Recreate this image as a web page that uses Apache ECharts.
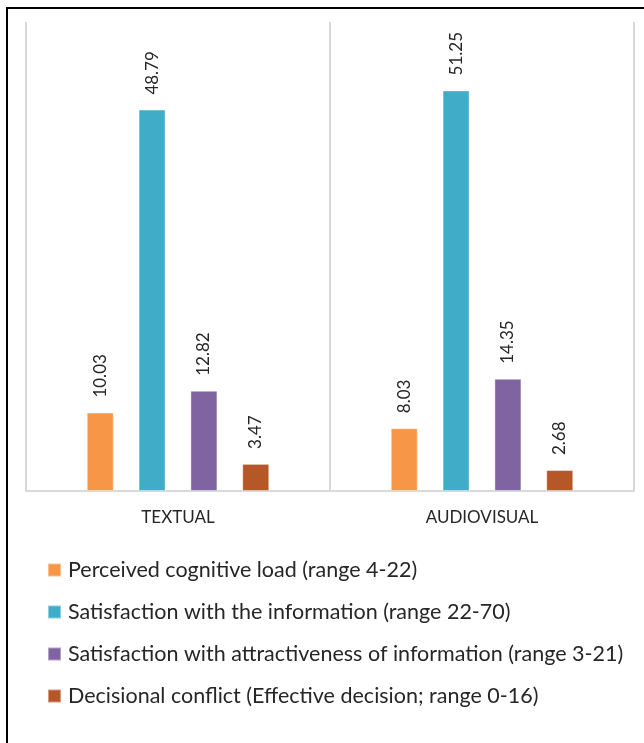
<!DOCTYPE html>
<html><head><meta charset="utf-8">
<script src="https://cdn.jsdelivr.net/npm/echarts@6/dist/echarts.min.js"></script>
<style>html,body{margin:0;padding:0;background:#fff}#c{width:644px;height:743px}</style>
</head><body><div id="c"></div>
<script>
var categories = ['TEXTUAL', 'AUDIOVISUAL'];
var seriesNames = [
  'Perceived cognitive load (range 4-22)',
  'Satisfaction with the information (range 22-70)',
  'Satisfaction with attractiveness of information (range 3-21)',
  'Decisional conflict (Effective decision; range 0-16)'
];
var cognitiveLoad = [10.03, 8.03];
var satisfactionInfo = [48.79, 51.25];
var satisfactionAttract = [12.82, 14.35];
var decisionalConflict = [3.47, 2.68];
var colors = ['#F79646', '#40ACC8', '#8064A2', '#B65727'];
var allValues = [cognitiveLoad, satisfactionInfo, satisfactionAttract, decisionalConflict];

var chart = echarts.init(document.getElementById('c'));
var font = 'Lato, "Open Sans", sans-serif';
chart.setOption({
  animation: false,
  color: colors,
  textStyle: {fontFamily: font},
  grid: {left: 26, right: 10, top: 22, bottom: 252},
  legend: {
    orient: 'vertical', left: 47, top: 559, padding: 0,
    itemWidth: 13, itemHeight: 13, itemGap: 20, icon: 'rect',
    textStyle: {fontSize: 21.5, color: '#262626', fontFamily: font, lineHeight: 21, padding: [0,0,0,2]},
    data: seriesNames
  },
  xAxis: {
    type: 'category', data: categories,
    axisLine: {lineStyle: {color: '#D9D9D9', width: 2}},
    axisTick: {show: false},
    splitLine: {show: true, lineStyle: {color: '#D9D9D9', width: 2}},
    axisLabel: {fontSize: 17, color: '#262626', margin: 18, fontFamily: font}
  },
  yAxis: {type: 'value', min: 0, max: 60, show: false, splitLine: {show: false}},
  series: seriesNames.map(function (n, i) {
    return {
      name: n, type: 'bar', data: allValues[i],
      barWidth: 27, barGap: '92%',
      itemStyle: {borderColor: 'rgba(255,255,255,0.4)', borderWidth: 1},
      label: {
        show: true, position: 'top', rotate: 90, align: 'left', verticalAlign: 'middle',
        distance: 15, fontSize: 17, color: '#262626', fontFamily: font,
        formatter: function (p) { return p.value.toFixed(2); }
      }
    };
  }),
  graphic: [
    {type: 'rect', shape: {x: 6, y: 7, width: 2, height: 736}, style: {fill: '#000'}},
    {type: 'rect', shape: {x: 6, y: 7, width: 638, height: 2}, style: {fill: '#000'}}
  ]
});
</script></body></html>
